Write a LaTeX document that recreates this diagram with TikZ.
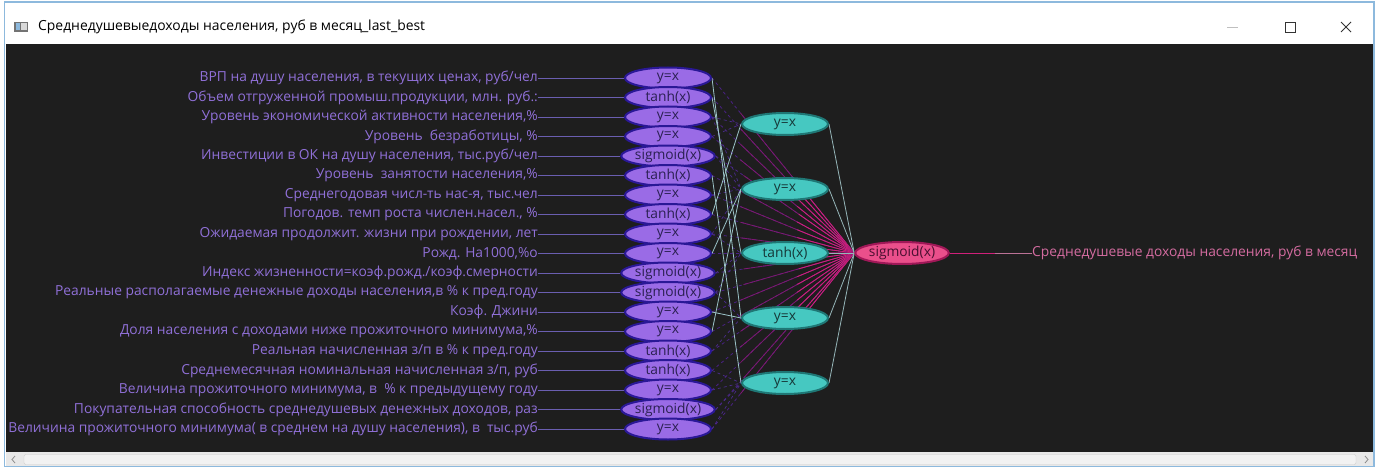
\documentclass[tikz,border=0pt]{standalone}
\usepackage{fontspec}
\setmainfont{Open Sans}
\usetikzlibrary{shapes.geometric,positioning,calc}
\definecolor{canvas}{HTML}{1E1E1E}
\definecolor{framebar}{HTML}{8DB9DD}
\definecolor{labeltext}{HTML}{9070D8}
\definecolor{feedline}{HTML}{6A5EB0}
\definecolor{infill}{HTML}{9A6BE6}
\definecolor{inborder}{HTML}{2A1896}
\definecolor{intext}{HTML}{2B2052}
\definecolor{hidfill}{HTML}{46C8C1}
\definecolor{hidborder}{HTML}{1F7775}
\definecolor{hidtext}{HTML}{163838}
\definecolor{outfill}{HTML}{EA4F8B}
\definecolor{outborder}{HTML}{A01858}
\definecolor{outtext}{HTML}{4A0F30}
\definecolor{outlabel}{HTML}{D46CA0}
\definecolor{poslink}{HTML}{9CC4C8}
\definecolor{neglink}{HTML}{4B2C8E}
\definecolor{skipfar}{HTML}{4A2284}
\definecolor{skipmid}{HTML}{7E1872}
\definecolor{skipnear}{HTML}{D0207A}
\pgfdeclarelayer{back}
\pgfdeclarelayer{edges}
\pgfsetlayers{back,edges,main}
\tikzset{
  txt/.style={font=\fontsize{13.8}{15}\selectfont},
  inlabel/.style={txt,anchor=east,inner sep=0pt,text=labeltext},
  neuron/.style={ellipse,inner sep=0pt,line width=2pt,txt},
  inneuron/.style={neuron,draw=inborder,fill=infill,text=intext,
    minimum width=86pt,minimum height=21pt},
  hidneuron/.style={neuron,draw=hidborder,fill=hidfill,text=hidtext,
    minimum width=86pt,minimum height=22pt},
  outneuron/.style={neuron,draw=outborder,fill=outfill,text=outtext,
    minimum width=85pt,minimum height=22pt},
  feed/.style={draw=feedline,line width=0.9pt},
  poswire/.style={draw=poslink,line width=0.8pt},
  negwire/.style={draw=neglink,dashed,line width=0.7pt},
  skip/.style={draw=#1,line width=0.8pt}
}
\begin{document}
\begin{tikzpicture}[x=1pt,y=-1pt]
  \useasboundingbox (0,0) rectangle (1380,468);
  % window frame, title bar and scroll bar
  \begin{pgfonlayer}{back}
    \fill[white] (0,0) rectangle (1380,468);
    \draw[framebar,line width=1.2pt] (4.5,2) rectangle (1374,466.5);
    \fill[canvas] (5.5,44) rectangle (1373,452);
    \fill[black!9] (5.5,452) rectangle (1373,466);
    \draw[black!20,fill=black!5,rounded corners=2pt] (24,454.5) rectangle (1356,464.5);
    \draw[black!45,line width=0.8pt] (15,456) -- (12,459.5) -- (15,463);
    \draw[black!45,line width=0.8pt] (1365,456) -- (1368,459.5) -- (1365,463);
    \fill[black!55] (14,22) rectangle (28,32);
    \fill[framebar] (15.5,23.5) rectangle (20,30.5);
    \fill[black!15] (21,23.5) rectangle (26.5,30.5);
    \draw[black!25,line width=0.8pt] (1227,27.5) -- (1238,27.5);
    \draw[black!80,line width=0.9pt] (1285,22) rectangle (1295,32);
    \draw[black!80,line width=0.9pt] (1341,22) -- (1351,32) (1341,32) -- (1351,22);
  \end{pgfonlayer}
  \node[anchor=west,inner sep=0pt,font=\fontsize{13.9}{15}\selectfont] (title) at (38,27)
    {Среднедушевыедоходы населения, руб в месяц\_last\_best};

  % input layer
  \foreach \i/\fn/\txt in {
    1/y=x/{ВРП на душу населения, в текущих ценах, руб/чел},
    2/tanh(x)/{Объем отгруженной промыш.продукции, млн. руб.:\hspace{5pt}},
    3/y=x/{Уровень экономической активности населения,\%},
    4/y=x/{Уровень\ \ безработицы, \%},
    5/sigmoid(x)/{Инвестиции в ОК на душу населения, тыс.руб/чел},
    6/tanh(x)/{Уровень\ \ занятости населения,\%},
    7/y=x/{Среднегодовая числ-ть нас-я, тыс.чел},
    8/tanh(x)/{Погодов. темп роста числен.насел., \%},
    9/y=x/{Ожидаемая продолжит. жизни при рождении, лет},
    10/y=x/{Рожд. На1000,\%о\hspace{5pt}},
    11/sigmoid(x)/{Индекс жизненности=коэф.рожд./коэф.смерности},
    12/sigmoid(x)/{Реальные располагаемые денежные доходы населения,в \% к пред.году},
    13/y=x/{Коэф. Джини},
    14/y=x/{Доля населения с доходами ниже прожиточного минимума,\%},
    15/tanh(x)/{Реальная начисленная з/п в \% к пред.году},
    16/tanh(x)/{Среднемесячная номинальная начисленная з/п, руб\hspace{8pt}},
    17/y=x/{Величина прожиточного минимума, в\ \ \% к предыдущему году},
    18/sigmoid(x)/{Покупательная способность среднедушевых денежных доходов, раз},
    19/y=x/{Величина прожиточного минимума( в среднем на душу населения), в\ \ тыс.руб}
  } {
    \pgfmathsetmacro{\y}{58.5+19.5*\i}
    \node[inneuron] (in\i) at (668,\y) {\fn};
    \node[inlabel] (lab\i) at (538,\y) {\txt};
    \begin{pgfonlayer}{edges}
      \draw[feed] (lab\i.east) -- (in\i.west);
    \end{pgfonlayer}
  }

  % hidden layer and output
  \foreach \j/\fn/\y in {1/y=x/124,2/y=x/189,3/tanh(x)/253,4/y=x/318,5/y=x/383}
    \node[hidneuron] (hid\j) at (785,\y) {\fn};
  \node[outneuron] (out) at (902,253) {sigmoid(x)};
  \node[anchor=west,inner sep=0pt,txt,text=outlabel] (target) at (1032,253)
    {Среднедушевые доходы населения, руб в месяц};

  \begin{pgfonlayer}{edges}
    % direct links input -> output
    \foreach \i in {1,...,19} {
      \draw[skip=skipfar,dashed] (in\i.east) -- (out.west);
      \draw[skip=skipmid] ($(out.west)!0.8!(in\i.east)$) -- (out.west);
      \draw[skip=skipnear] ($(out.west)!0.4!(in\i.east)$) -- (out.west);
    }
    % input -> hidden
    \foreach \a/\b in {3/1,4/1,5/2,7/2,9/3,11/3,12/4,15/4,16/5,17/5,18/5,19/5,3/2,9/2,12/3}
      \draw[negwire] (in\a.east) -- (hid\b.west);
    \foreach \a/\b in {1/4,2/3,6/5,8/1,10/2,14/2,13/4}
      \draw[poswire] (in\a.east) -- (hid\b.west);
    % hidden -> output
    \foreach \j in {1,...,5}
      \draw[poswire,draw=poslink!80!gray] (hid\j.east) -- (out.west);
    \draw[skip=skipnear] (out.east) -- ($(out.east)!0.55!(target.west)$);
    \draw[skip=outlabel!70!gray] ($(out.east)!0.55!(target.west)$) -- (target.west);
  \end{pgfonlayer}
\end{tikzpicture}
\end{document}
